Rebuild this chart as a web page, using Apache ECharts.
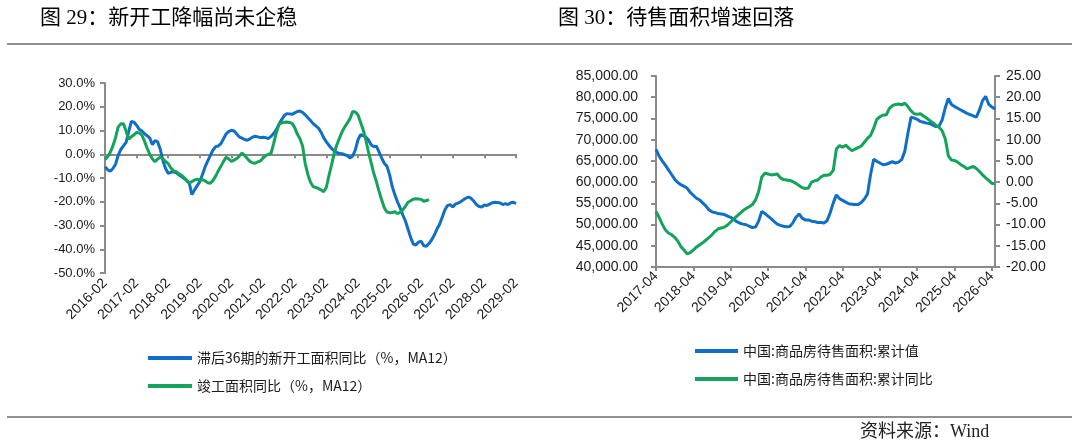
<!DOCTYPE html>
<html>
<head>
<meta charset="utf-8">
<script src="https://cdn.jsdelivr.net/npm/echarts@6.0.0/dist/echarts.min.js"></script>
<style>
html,body{margin:0;padding:0;background:#fff;}
#main{width:1080px;height:447px;}
</style>
</head>
<body>
<div id="main"></div>
<script>
// ---------- DATA ----------
const titleLeft = '图 29：新开工降幅尚未企稳';
const titleRight = '图 30：待售面积增速回落';
const sourceText = '资料来源：Wind';

const leftSeriesNames = ['滞后36期的新开工面积同比（%，MA12）', '竣工面积同比（%，MA12）'];
const rightSeriesNames = ['中国:商品房待售面积:累计值', '中国:商品房待售面积:累计同比'];

// monthly categories 2016-02 .. 2029-02
const leftStart = [2016, 2], leftCount = 157;
// monthly categories 2017-04 .. 2026-05
const rightStart = [2017, 4], rightCount = 110;

const lagNewStartYoY = [
  -5.3, -6.5, -7.2, -6.0, -4.2, -0.5, 2.0, 3.5, 5.0, 9.5, 13.8, 13.5,
  12.2, 10.5, 9.8, 8.6, 7.8, 6.8, 4.0, 5.8, 5.2, 2.0, -2.8, -6.0,
  -8.1, -7.6, -7.4, -7.8, -8.6, -9.4, -10.2, -11.0, -12.3, -17.0, -15.0, -13.2,
  -11.5, -8.5, -5.3, -2.8, -0.5, 1.8, 3.2, 3.5, 4.5, 6.5, 8.6, 9.6,
  10.1, 9.8, 8.5, 7.3, 6.8, 6.2, 5.9, 6.5, 7.2, 7.6, 7.3, 7.0,
  7.2, 7.0, 6.6, 7.5, 8.8, 10.3, 12.5, 14.5, 16.2, 17.1, 17.0, 16.8,
  17.4, 18.0, 18.2, 17.6, 16.6, 15.4, 14.2, 12.9, 12.0, 11.0, 9.3, 7.0,
  5.2, 3.8, 2.4, 1.4, 0.8, 0.3, 0.2, -0.2, -0.6, -1.6, -0.8, 1.8,
  6.0, 8.2, 7.8, 7.3, 6.0, 4.0, 3.2, 3.4, 1.0, -1.5, -3.8, -5.0,
  -8.5, -13.5, -17.0, -20.0, -22.5, -25.5, -28.0, -31.5, -35.0, -37.8, -38.2, -37.0,
  -36.6, -38.5, -38.8, -37.5, -36.0, -34.0, -31.5, -29.5, -26.5, -23.5, -21.6, -21.2,
  -22.2, -21.0, -20.6, -20.0, -19.2, -18.5, -18.0, -18.6, -19.8, -21.2, -22.0, -22.2,
  -21.4, -21.6, -21.0, -20.4, -20.2, -20.3, -20.5, -21.2, -20.8, -21.2, -20.4, -20.2,
  -20.8
];

const completionYoY = [
  -2.2, -1.0, 0.8, 3.5, 7.0, 11.5, 12.8, 12.8, 9.8, 6.3, 7.4, 8.2,
  9.2, 9.0, 8.0, 5.5, 2.5, 0.0, -2.0, -3.2, -2.0, -1.2, -2.0, -3.0,
  -4.0, -5.8, -7.0, -7.3, -8.2, -8.8, -9.8, -11.0, -12.2, -11.5, -10.8, -10.5,
  -10.8, -10.7, -11.2, -12.0, -12.2, -11.0, -9.2, -7.0, -5.0, -3.0, -1.2, -2.0,
  -3.0, -2.5, -1.8, -0.8, 0.5, -0.5, -1.8, -3.0, -3.6, -3.8, -3.2, -2.8,
  -1.6, -0.6, 0.0, 0.3, 4.5, 9.0, 12.5, 13.2, 13.5, 13.6, 13.4, 13.0,
  11.2, 8.5, 6.5, 3.5, -4.0, -8.5, -11.8, -13.6, -14.0, -14.4, -15.0, -15.8,
  -14.0, -9.0, -4.5, 0.5, 4.0, 6.8, 9.5, 11.5, 13.2, 15.0, 18.0, 17.8,
  16.6, 13.5, 10.3, 6.0, 1.0, -3.5, -8.0, -11.5, -15.5, -19.2, -22.5, -24.3,
  -24.6, -24.5, -24.2, -25.0, -24.5, -23.4, -22.0, -20.2, -19.6, -18.9, -18.7, -18.8,
  -19.0, -19.8, -19.5, -19.1
];

const unsoldArea = [
  67700, 66100, 65000, 64000, 62900, 61800, 60700, 59900, 59400, 59000, 58600, 57600,
  56900, 56200, 55800, 55100, 54400, 53500, 53000, 52800, 52600, 52500, 52350, 52000,
  51700, 51200, 50700, 50300, 50100, 49950, 49600, 49300, 49400, 50800, 53100, 52600,
  52000, 51400, 50700, 50100, 49800, 49600, 49500, 49550, 50400, 51700, 52500, 51500,
  51100, 51100, 50800, 50700, 50500, 50500, 50350, 50900, 52800, 55100, 57000, 56100,
  55700, 55300, 54900, 54800, 54700, 54700, 55200, 56000, 57200, 61800, 65400, 64900,
  64500, 64100, 64200, 64500, 64800, 64500, 64700, 65300, 67300, 71500, 75300, 75100,
  74800, 74300, 74100, 73900, 73800, 73400, 73100, 73200, 74600, 77500, 79700, 78300,
  77800, 77400, 77000, 76600, 76200, 75900, 75600, 75300, 77000, 79200, 80200, 78300,
  77700, 77200
];

const unsoldAreaYoY = [
  -6.9, -8.3, -9.9, -11.2, -12.0, -12.4, -13.0, -13.9, -15.2, -16.0, -16.9, -16.6,
  -16.0, -15.3, -14.8, -14.3, -13.7, -13.1, -12.4, -11.6, -11.0, -10.8, -10.6, -10.1,
  -9.4, -8.7, -8.0, -7.4, -6.7, -6.2, -5.8, -5.3, -4.2, -2.2, 1.2, 2.1,
  1.9, 1.7, 1.8, 1.9, 1.0, 0.6, 0.5, 0.4, 0.1, -0.3, -0.8, -1.3,
  -1.5, -1.4, 0.0, 0.3, 0.5, 1.2, 1.6, 1.6, 1.8, 2.8, 7.8, 8.6,
  8.2, 8.7, 8.0, 7.4, 7.8, 8.1, 8.5, 9.4, 10.3, 11.0, 12.7, 14.8,
  15.4, 15.8, 15.8, 17.3, 18.0, 18.3, 18.4, 18.2, 18.6, 17.8, 16.8, 16.1,
  16.0, 16.1, 15.6, 15.1, 14.5, 14.0, 13.4, 12.9, 12.1, 10.2, 6.2, 5.2,
  5.1, 4.7, 4.1, 3.7, 3.1, 3.4, 3.7, 3.2, 2.5, 1.7, 1.0, 0.4,
  -0.3, -0.3
];

function monthLabels(start, count) {
  const out = [];
  let y = start[0], m = start[1];
  for (let i = 0; i < count; i++) {
    out.push(y + '-' + (m < 10 ? '0' + m : m));
    m++; if (m > 12) { m = 1; y++; }
  }
  return out;
}
const leftMonths = monthLabels(leftStart, leftCount);
const rightMonths = monthLabels(rightStart, rightCount);

// ---------- STYLE ----------
const BLUE = '#0F6FC6';
const GREEN = '#13A35A';
const AXIS = '#8a8a8a';
const TXT = '#1a1a1a';
const FONT = "'Liberation Sans', 'Noto Sans CJK SC', sans-serif";
const CJK = "'Noto Sans CJK SC', sans-serif";
const TITLEFONT = "'Liberation Serif', 'Noto Sans CJK SC', serif";

const chart = echarts.init(document.getElementById('main'), null, {renderer: 'canvas', width: 1080, height: 447});

const axisLineStyle = {color: AXIS, width: 2};

const option = {
  animation: false,
  backgroundColor: '#fff',
  textStyle: {fontFamily: FONT},
  grid: [
    {left: 105, top: 83, width: 411, height: 190},
    {left: 656, top: 76, width: 339, height: 191}
  ],
  xAxis: [
    {
      type: 'category', gridIndex: 0, data: leftMonths, boundaryGap: false,
      axisLine: {onZero: true, lineStyle: axisLineStyle},
      axisTick: {show: true, interval: 11, length: 4, lineStyle: axisLineStyle},
      axisLabel: {show: false}, splitLine: {show: false}
    },
    {
      type: 'category', gridIndex: 0, data: leftMonths, boundaryGap: false, position: 'bottom',
      axisLine: {show: false, onZero: false}, axisTick: {show: false},
      axisLabel: {interval: 11, rotate: 45, fontSize: 14, margin: 8, color: TXT, fontFamily: FONT},
      splitLine: {show: false}
    },
    {
      type: 'category', gridIndex: 1, data: rightMonths, boundaryGap: false,
      axisLine: {onZero: false, lineStyle: axisLineStyle},
      axisTick: {show: true, interval: 11, length: 4, lineStyle: axisLineStyle},
      axisLabel: {interval: 11, rotate: 45, fontSize: 14, margin: 7, color: TXT, fontFamily: FONT},
      splitLine: {show: false}
    }
  ],
  yAxis: [
    {
      type: 'value', gridIndex: 0, min: -50, max: 30, interval: 10,
      axisLine: {show: true, lineStyle: axisLineStyle},
      axisTick: {show: true, length: 5, lineStyle: axisLineStyle},
      axisLabel: {formatter: v => v.toFixed(1) + '%', fontSize: 13, margin: 10, color: TXT},
      splitLine: {show: false}
    },
    {
      type: 'value', gridIndex: 1, position: 'left', min: 40000, max: 85000, interval: 5000,
      axisLine: {show: true, lineStyle: axisLineStyle},
      axisTick: {show: true, length: 5, lineStyle: axisLineStyle},
      axisLabel: {
        formatter: v => v.toLocaleString('en-US', {minimumFractionDigits: 2, maximumFractionDigits: 2}),
        fontSize: 14, margin: 18, color: TXT
      },
      splitLine: {show: false}
    },
    {
      type: 'value', gridIndex: 1, position: 'right', min: -20, max: 25, interval: 5,
      axisLine: {show: true, lineStyle: axisLineStyle},
      axisTick: {show: true, length: 5, lineStyle: axisLineStyle},
      axisLabel: {formatter: v => v.toFixed(2), fontSize: 14, margin: 11, color: TXT},
      splitLine: {show: false}
    }
  ],
  legend: [
    {
      left: 143, top: 345, orient: 'vertical', icon: 'rect', itemWidth: 44, itemHeight: 4, itemGap: 12,
      textStyle: {fontSize: 14, lineHeight: 16, color: TXT, fontFamily: CJK},
      data: leftSeriesNames
    },
    {
      left: 690, top: 338, orient: 'vertical', icon: 'rect', itemWidth: 43, itemHeight: 4, itemGap: 12,
      textStyle: {fontSize: 14, lineHeight: 16, color: TXT, fontFamily: CJK},
      data: rightSeriesNames
    }
  ],
  series: [
    {
      name: leftSeriesNames[0], type: 'line', xAxisIndex: 0, yAxisIndex: 0, data: lagNewStartYoY,
      symbol: 'none', lineStyle: {color: BLUE, width: 3}, itemStyle: {color: BLUE}, z: 3
    },
    {
      name: leftSeriesNames[1], type: 'line', xAxisIndex: 0, yAxisIndex: 0, data: completionYoY,
      symbol: 'none', lineStyle: {color: GREEN, width: 3}, itemStyle: {color: GREEN}, z: 4
    },
    {
      name: rightSeriesNames[0], type: 'line', xAxisIndex: 2, yAxisIndex: 1, data: unsoldArea,
      symbol: 'none', lineStyle: {color: BLUE, width: 3}, itemStyle: {color: BLUE}, z: 3
    },
    {
      name: rightSeriesNames[1], type: 'line', xAxisIndex: 2, yAxisIndex: 2, data: unsoldAreaYoY,
      symbol: 'none', lineStyle: {color: GREEN, width: 3}, itemStyle: {color: GREEN}, z: 4
    }
  ],
  graphic: [
    {type: 'line', shape: {x1: 7, y1: 44, x2: 1072, y2: 44}, style: {stroke: '#6b6b6b', lineWidth: 1.3}},
    {type: 'line', shape: {x1: 7, y1: 417, x2: 1072, y2: 417}, style: {stroke: '#6b6b6b', lineWidth: 1.3}},
    {type: 'text', x: 40, y: 18, style: {text: titleLeft, font: '21px ' + TITLEFONT, fill: '#000',
      textVerticalAlign: 'middle', verticalAlign: 'middle', textAlign: 'left', align: 'left'}},
    {type: 'text', x: 558, y: 18, style: {text: titleRight, font: '21px ' + TITLEFONT, fill: '#000',
      textVerticalAlign: 'middle', verticalAlign: 'middle', textAlign: 'left', align: 'left'}},
    {type: 'text', x: 860, y: 432, style: {text: sourceText, font: '18px ' + TITLEFONT, fill: '#222',
      textVerticalAlign: 'middle', verticalAlign: 'middle', textAlign: 'left', align: 'left'}}
  ]
};
chart.setOption(option);
</script>
</body>
</html>
